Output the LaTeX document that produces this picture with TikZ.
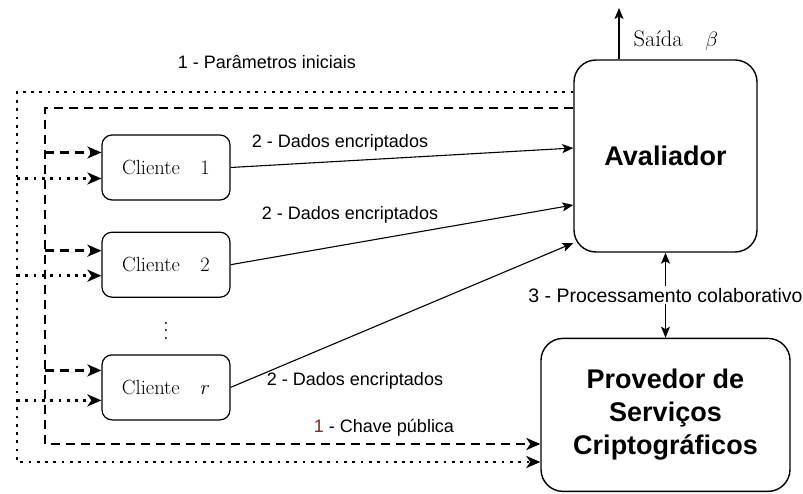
\documentclass[tikz,border=0pt]{standalone}
\usepackage{amsmath,amssymb}
\usepackage{fontspec}
\setsansfont{Liberation Sans}
\usepackage{tikz}
\usetikzlibrary{arrows.meta,positioning,calc}
\definecolor{avlred}{HTML}{8B2323}

\begin{document}
\begin{tikzpicture}[
    x=1pt, y=1pt,
    every node/.style={align=center},
    lbl/.style={font=\sffamily\fontsize{18}{21}\selectfont, inner sep=1pt},
    bigbox/.style={draw, line width=1.4pt, rounded corners=22pt, font=\sffamily\bfseries\fontsize{27}{33}\selectfont},
    client/.style={draw, line width=1.2pt, rounded corners=10pt, minimum width=128pt, minimum height=65pt, font=\fontsize{20.5}{23}\selectfont},
    arrow/.style={-{Stealth[length=11pt, width=9pt, inset=2.5pt]}, line width=1.1pt},
    dblarrow/.style={{Stealth[length=11pt, width=9pt, inset=2.5pt]}-{Stealth[length=11pt, width=9pt, inset=2.5pt]}, line width=1.1pt},
    dotarrow/.style={-{Stealth[length=14pt, width=12pt, inset=4pt]}, line width=2.7pt, dash pattern=on 2.7pt off 5.6pt},
    dasharrow/.style={-{Stealth[length=14pt, width=12pt, inset=4pt]}, line width=2.5pt, dash pattern=on 9pt off 6pt}
]
    \useasboundingbox (0,0) rectangle (803,493);

    % boxes
    \node[bigbox, minimum width=183pt, minimum height=192pt] (aval) at (665.5,337) {Avaliador};
    \node[bigbox, minimum width=249pt, minimum height=153pt, below=85pt of aval] (prov) {Provedor de\\Serviços\\Criptográficos};
    \node[client] (c1) at (166,325.5) {Cliente\quad 1};
    \node[client, below=31pt of c1] (c2) {Cliente\quad 2};
    \node[client, below=56.5pt of c2] (cr) {Cliente\quad $r$};
    \node (dots) at (166,168) {\scalebox{1.9}{$\vdots$}};

    % corners of the two feedback lines
    \coordinate (dt) at (17,401);
    \coordinate (db) at (17,31);
    \coordinate (st) at (45,385);
    \coordinate (sb) at (45,49);

    % parametros iniciais (dotted)
    \draw[dotarrow] (aval.west |- dt) -- (dt) -- (db) -- (prov.west |- db);
    \draw[dotarrow] (dt |- {$(c1.west)+(0,-11)$}) -- ($(c1.west)+(0,-11)$);
    \draw[dotarrow] (dt |- {$(c2.west)+(0,-11)$}) -- ($(c2.west)+(0,-11)$);
    \draw[dotarrow] (dt |- {$(cr.west)+(0,-13)$}) -- ($(cr.west)+(0,-13)$);

    % chave publica (dashed)
    \draw[dasharrow] (aval.west |- st) -- (st) -- (sb) -- (prov.west |- sb);
    \draw[dasharrow] (st |- {$(c1.west)+(0,15)$}) -- ($(c1.west)+(0,15)$);
    \draw[dasharrow] (st |- {$(c2.west)+(0,14)$}) -- ($(c2.west)+(0,14)$);
    \draw[dasharrow] (st |- {$(cr.west)+(0,17)$}) -- ($(cr.west)+(0,17)$);

    % dados encriptados
    \draw[arrow] (c1.east) -- ([yshift=8pt]aval.west);
    \draw[arrow] (c2.east) -- ([yshift=-49pt]aval.west);
    \draw[arrow] (cr.east) -- ([yshift=-87pt]aval.west);

    \node[lbl] (dat1) at (340,350) {2 - Dados encriptados};
    \node[lbl] (dat2) at (350,278) {2 - Dados encriptados};
    \node[lbl] (dat3) at (355,112) {2 - Dados encriptados};
    \node[lbl] (par) at (267,431) {1 - Parâmetros iniciais};
    \node[lbl] (chave) at (384,65) {\textcolor{avlred}{1} - Chave pública};

    \draw[dblarrow] (aval.south) -- node[lbl, font=\sffamily\fontsize{19.5}{22}\selectfont, fill=white, inner sep=2pt] (proc) {3 - Processamento colaborativo} (prov.north);

    % saida
    \coordinate (out) at (619,485);
    \draw[arrow] (aval.north -| out) -- (out);
    \node[font=\fontsize{22.5}{25}\selectfont, anchor=west] (said) at (630,452) {Saída\quad$\beta$};
\end{tikzpicture}
\end{document}
